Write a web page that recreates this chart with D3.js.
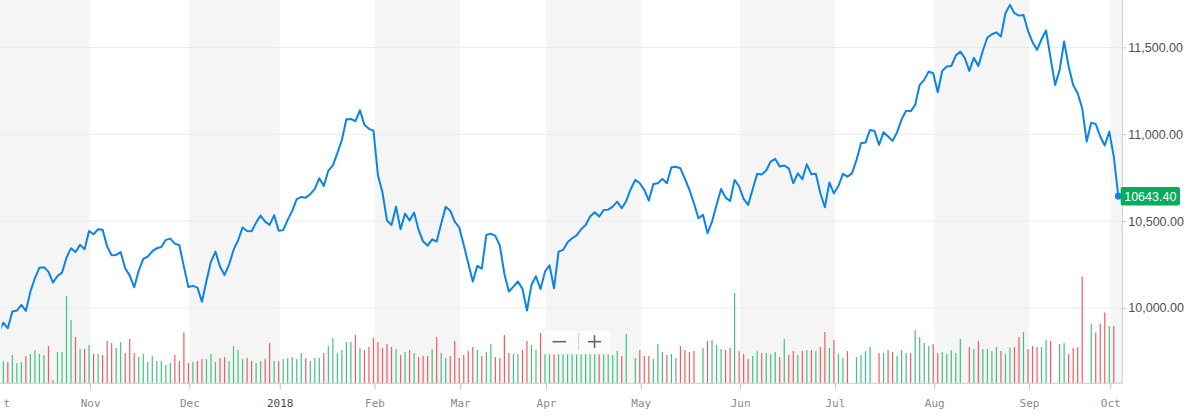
<!DOCTYPE html>
<html>
<head>
<meta charset="utf-8">
<script src="https://cdn.jsdelivr.net/npm/d3@7/dist/d3.min.js"></script>
<style>
  body { margin: 0; background: #fff; }
  svg { display: block; }
</style>
</head>
<body>
<div id="chart"></div>
<script>
// daily closes, Oct 2017 - Oct 2018 (one per trading session)
const closes = [
  9860, 9915, 9883, 9979, 9985, 10017, 9983, 10094, 10171, 10232,
  10234, 10209, 10146, 10184, 10203, 10290, 10344, 10322, 10363, 10338,
  10443, 10424, 10453, 10450, 10353, 10303, 10305, 10321, 10229, 10186,
  10119, 10215, 10282, 10296, 10326, 10344, 10351, 10392, 10399, 10370,
  10361, 10238, 10121, 10127, 10117, 10036, 10155, 10267, 10324, 10238,
  10190, 10248, 10334, 10388, 10463, 10443, 10441, 10491, 10532, 10497,
  10478, 10534, 10445, 10448, 10507, 10559, 10626, 10639, 10635, 10655,
  10685, 10747, 10702, 10791, 10821, 10891, 10967, 11086, 11088, 11075,
  11138, 11054, 11031, 11021, 10762, 10664, 10503, 10478, 10583, 10453,
  10543, 10503, 10549, 10449, 10382, 10359, 10395, 10382, 10484, 10583,
  10560, 10497, 10463, 10363, 10257, 10152, 10242, 10226, 10420, 10428,
  10415, 10359, 10196, 10094, 10123, 10152, 10111, 9985, 10133, 10182,
  10109, 10209, 10246, 10113, 10324, 10334, 10378, 10401, 10418, 10453,
  10478, 10526, 10551, 10526, 10564, 10566, 10583, 10612, 10574, 10616,
  10685, 10737, 10718, 10679, 10618, 10714, 10718, 10743, 10718, 10810,
  10813, 10804, 10743, 10679, 10603, 10516, 10536, 10430, 10497, 10593,
  10685, 10635, 10616, 10737, 10699, 10628, 10593, 10683, 10772, 10768,
  10791, 10843, 10858, 10814, 10820, 10804, 10718, 10775, 10741, 10827,
  10770, 10772, 10660, 10580, 10722, 10660, 10702, 10772, 10756, 10775,
  10852, 10948, 10952, 11025, 11019, 10939, 11012, 10987, 10962, 11012,
  11086, 11136, 11132, 11169, 11284, 11313, 11361, 11351, 11242, 11365,
  11390, 11393, 11453, 11476, 11438, 11365, 11441, 11393, 11482, 11557,
  11576, 11587, 11562, 11697, 11745, 11697, 11683, 11687, 11595, 11530,
  11486, 11547, 11597, 11438, 11284, 11370, 11534, 11390, 11284, 11236,
  11150, 10958, 11067, 11058, 10987, 10935, 11015, 10871, 10643.40
];

// session volume (relative units), 0 = no bar shown
const volumes = [
  90, 89, 85, 113, 81, 85, 109, 117, 133, 117,
  113, 149, 13, 125, 125, 349, 253, 185, 137, 137,
  153, 117, 117, 113, 169, 161, 141, 165, 121, 177,
  121, 105, 117, 85, 109, 89, 89, 73, 81, 113,
  89, 203, 81, 85, 89, 97, 97, 117, 85, 101,
  105, 89, 149, 133, 97, 101, 89, 81, 89, 97,
  161, 89, 89, 97, 101, 105, 97, 121, 101, 89,
  101, 101, 121, 149, 181, 121, 133, 165, 165, 193,
  141, 133, 145, 181, 165, 141, 157, 145, 137, 113,
  125, 133, 121, 105, 109, 109, 137, 185, 121, 101,
  109, 169, 101, 113, 129, 145, 133, 109, 125, 157,
  105, 101, 193, 121, 117, 117, 133, 169, 153, 133,
  201, 150, 140, 160, 145, 135, 150, 140, 130, 145,
  135, 150, 140, 130, 145, 155, 113, 129, 109, 197,
  0, 101, 133, 109, 109, 97, 157, 125, 113, 117,
  101, 149, 133, 125, 129, 0, 141, 169, 173, 153,
  137, 133, 141, 361, 129, 117, 97, 109, 129, 121,
  121, 117, 125, 105, 177, 113, 129, 113, 129, 133,
  133, 129, 145, 205, 141, 173, 117, 101, 129, 0,
  105, 113, 129, 145, 0, 121, 121, 133, 125, 109,
  133, 121, 121, 213, 185, 161, 149, 157, 121, 125,
  117, 133, 121, 177, 0, 145, 137, 169, 137, 137,
  129, 145, 129, 117, 141, 145, 185, 205, 137, 149,
  145, 145, 173, 169, 0, 157, 161, 117, 141, 145,
  427, 0, 237, 203, 239, 283, 229, 229, 0
];

// first session of each month (index into closes) and its label
const monthIdx = [0, 20, 42, 62, 83, 102, 121, 142, 164, 185, 207, 228, 246];
const monthLabels = ['Oct', 'Nov', 'Dec', '2018', 'Feb', 'Mar', 'Apr', 'May', 'Jun', 'Jul', 'Aug', 'Sep', 'Oct'];

const priceTicks = [10000, 10500, 11000, 11500];

const W = 1189, H = 418,
      RIGHT = 1122.3,
      BASE = 383.3;

const svg = d3.select('#chart')
  .append('svg')
  .attr('width', W)
  .attr('height', H);

const x = d3.scaleLinear()
  .domain([0, closes.length - 1])
  .range([-1.2, 1118.3]);
const xTick = x.copy().range([-0.2, 1119.3]);

const y = d3.scaleLinear()
  .domain([9566, 11773])
  .range([BASE, 0]);

const yv = d3.scaleLinear()
  .domain([0, 440])
  .range([BASE, BASE - 110]);

const defs = svg.append('defs');
defs.append('clipPath')
  .attr('id', 'plot-clip')
  .append('rect')
  .attr('x', 1.5).attr('y', 0)
  .attr('width', RIGHT - 1.5).attr('height', BASE);
defs.append('clipPath')
  .attr('id', 'xaxis-clip')
  .append('rect')
  .attr('x', 3).attr('y', 0)
  .attr('width', W - 3).attr('height', H);

// alternating month bands
const bandEdges = monthIdx.map(i => xTick(i)).concat([RIGHT]);
svg.append('g')
  .selectAll('rect')
  .data(monthIdx)
  .enter()
  .append('rect')
  .attr('x', (d, i) => Math.max(0, bandEdges[i]))
  .attr('y', 0)
  .attr('width', (d, i) => bandEdges[i + 1] - Math.max(0, bandEdges[i]))
  .attr('height', BASE)
  .attr('fill', (d, i) => i % 2 === 0 ? '#f5f5f5' : 'none');

// horizontal grid
svg.append('g')
  .selectAll('line')
  .data(priceTicks)
  .enter()
  .append('line')
  .attr('x1', 0)
  .attr('x2', RIGHT)
  .attr('y1', d => y(d))
  .attr('y2', d => y(d))
  .attr('stroke', '#ebebeb')
  .attr('stroke-width', 1);

// volume bars, coloured by the day's move
svg.append('g')
  .selectAll('rect')
  .data(volumes.map((v, i) => ({v, i})).filter(d => d.v > 0))
  .enter()
  .append('rect')
  .attr('x', d => x(d.i) - 0.6)
  .attr('width', 1.2)
  .attr('y', d => yv(d.v))
  .attr('height', d => BASE - yv(d.v))
  .attr('fill', d => (d.i === 0 || closes[d.i] >= closes[d.i - 1]) ? '#3fc284' : '#f45b5e');

// price line
const line = d3.line()
  .x((d, i) => x(i))
  .y(d => y(d));

svg.append('path')
  .datum(closes)
  .attr('clip-path', 'url(#plot-clip)')
  .attr('d', line)
  .attr('fill', 'none')
  .attr('stroke', '#0b84ea')
  .attr('stroke-width', 2)
  .attr('stroke-linejoin', 'round');

// zoom control
const zc = svg.append('g');
zc.append('rect')
  .attr('x', 541.7).attr('y', 329.3)
  .attr('width', 70.3).attr('height', 24.7)
  .attr('rx', 4)
  .attr('fill', '#fbfbfb')
  .attr('stroke', '#f0f0f0');
zc.append('line')
  .attr('x1', 578.7).attr('x2', 578.7)
  .attr('y1', 333).attr('y2', 350)
  .attr('stroke', '#cfcfcf');
zc.append('line')
  .attr('x1', 552.5).attr('x2', 566)
  .attr('y1', 341.7).attr('y2', 341.7)
  .attr('stroke', '#666').attr('stroke-width', 1.6);
zc.append('line')
  .attr('x1', 588).attr('x2', 601)
  .attr('y1', 341.7).attr('y2', 341.7)
  .attr('stroke', '#666').attr('stroke-width', 1.6);
zc.append('line')
  .attr('x1', 594.5).attr('x2', 594.5)
  .attr('y1', 335.2).attr('y2', 348.2)
  .attr('stroke', '#666').attr('stroke-width', 1.6);

// x axis
const xAxis = d3.axisBottom(xTick)
  .tickValues(monthIdx)
  .tickFormat((d, i) => monthLabels[i])
  .tickSize(6)
  .tickPadding(10);

const gx = svg.append('g')
  .attr('clip-path', 'url(#xaxis-clip)')
  .append('g')
  .attr('transform', `translate(0,${BASE})`)
  .call(xAxis);
gx.select('.domain').remove();
gx.selectAll('line').attr('stroke', '#c4c4c4');
gx.selectAll('text')
  .attr('font-family', '"DejaVu Sans Mono", monospace')
  .attr('font-size', 11)
  .attr('fill', (d, i) => monthLabels[i] === '2018' ? '#4a4a4a' : '#8a8a8a');

svg.append('line')
  .attr('x1', 0).attr('x2', RIGHT)
  .attr('y1', BASE).attr('y2', BASE)
  .attr('stroke', '#cccccc');

// y axis
const yAxis = d3.axisRight(y)
  .tickValues(priceTicks)
  .tickFormat(d3.format(',.2f'))
  .tickSize(4)
  .tickPadding(2);

const gy = svg.append('g')
  .attr('transform', `translate(${RIGHT},0)`)
  .call(yAxis);
gy.select('.domain').remove();
gy.selectAll('line').attr('stroke', '#c4c4c4');
gy.selectAll('text')
  .attr('font-family', '"Liberation Sans", Arial, sans-serif')
  .attr('font-size', 12.5)
  .attr('fill', '#505050');

svg.append('line')
  .attr('x1', RIGHT).attr('x2', RIGHT)
  .attr('y1', 0).attr('y2', BASE)
  .attr('stroke', '#cccccc');

// last price marker
const last = closes.length - 1;
svg.append('circle')
  .attr('cx', x(last))
  .attr('cy', y(closes[last]))
  .attr('r', 3.4)
  .attr('fill', '#0b84ea');

const badge = svg.append('g')
  .attr('transform', `translate(${RIGHT - 1.6},${y(closes[last])})`);
badge.append('rect')
  .attr('x', 0).attr('y', -9.2)
  .attr('width', 59.3).attr('height', 18.4)
  .attr('rx', 2)
  .attr('fill', '#05ad5d');
badge.append('text')
  .attr('x', 29.6).attr('y', 0)
  .attr('dy', '0.35em')
  .attr('text-anchor', 'middle')
  .attr('font-family', '"Liberation Sans", Arial, sans-serif')
  .attr('font-size', 12.5)
  .attr('fill', '#fff')
  .text(d3.format('.2f')(closes[last]));
</script>
</body>
</html>
